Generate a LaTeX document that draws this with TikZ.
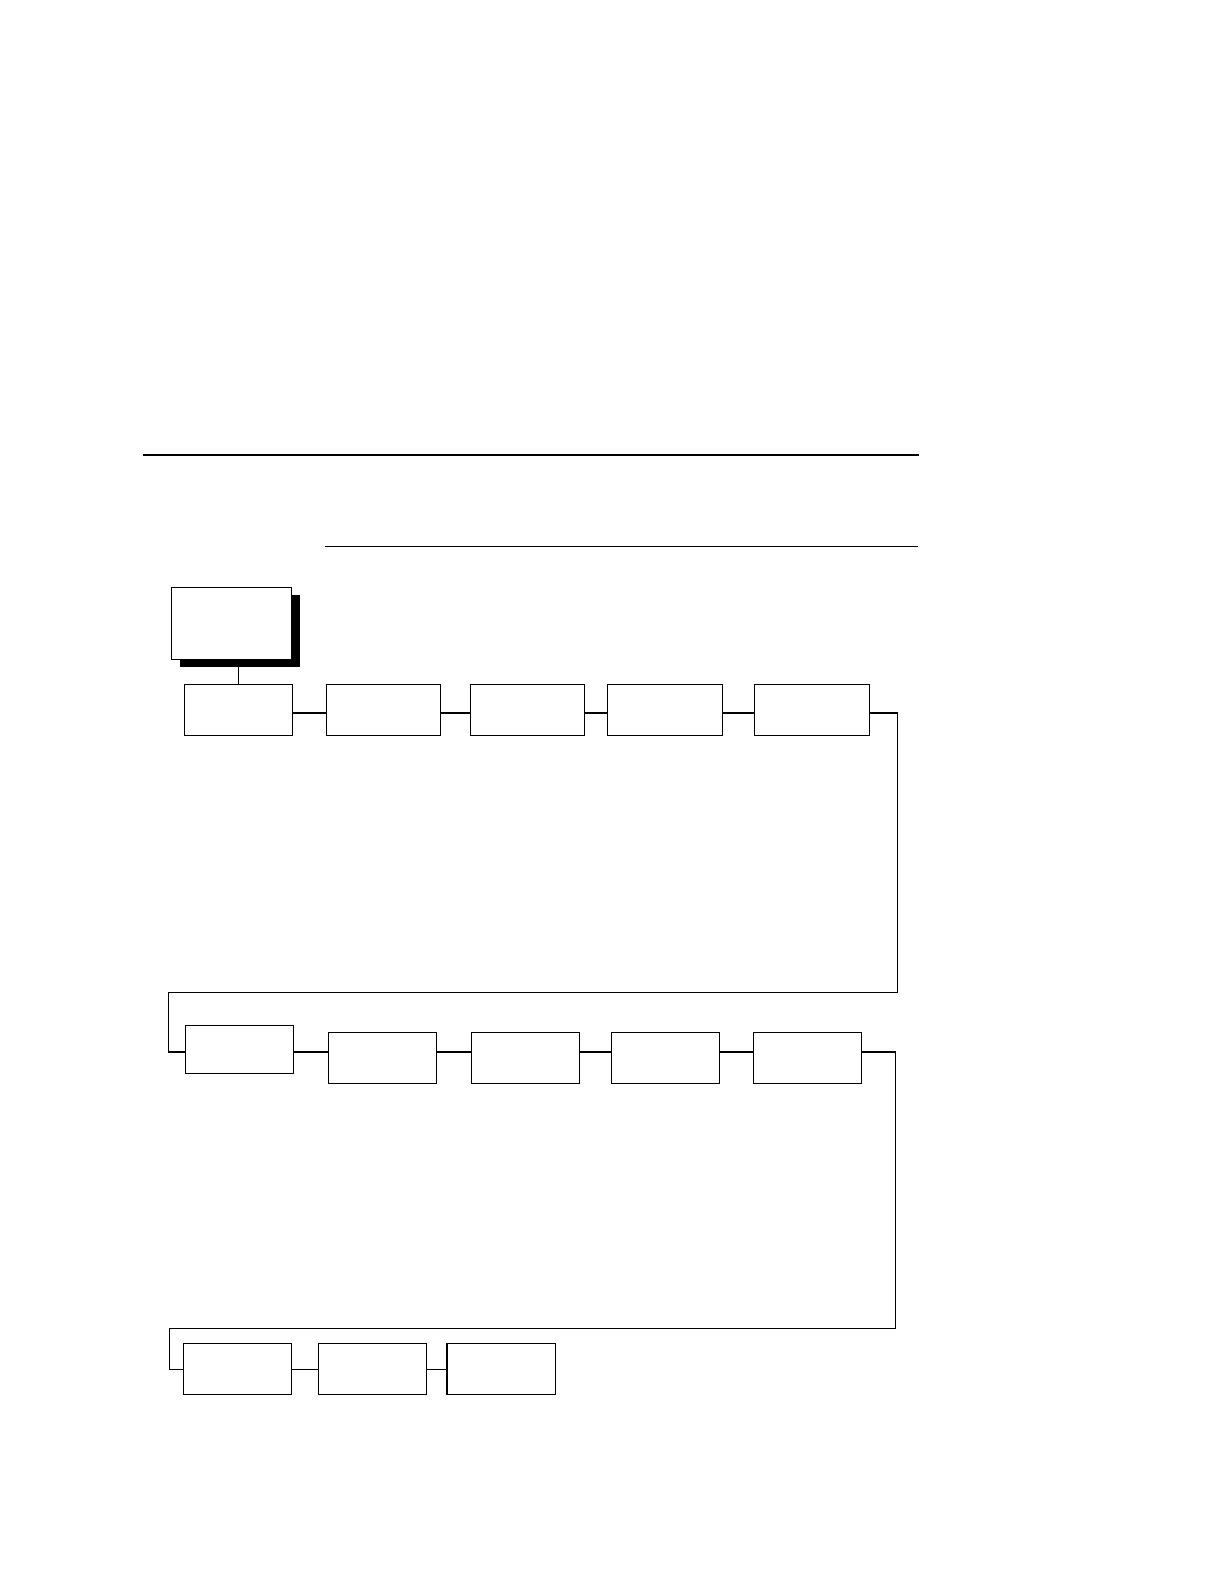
\documentclass[tikz,border=0pt]{standalone}
\usetikzlibrary{positioning,shadows}

\begin{document}
\begin{tikzpicture}
    [x=1pt,y=-1pt,line width=1.2pt,
     box/.style={draw, fill=white, rectangle, inner sep=0pt, minimum height=51pt}]
  \useasboundingbox (0,0) rectangle (1222,1584);

  % header rules
  \draw[line width=2.2pt] (143.3,455.3) -- (918.7,455.3);
  \draw (324.7,546.3) -- (917.7,546.3);

  % main menu box
  \node[box, minimum width=120.4pt, minimum height=72pt,
        drop shadow={shadow xshift=8.7pt, shadow yshift=-8pt, fill=black, opacity=1}]
        (menu) at (231.5,623.3) {};

  % rows of boxes
  \foreach \n/\x/\w in {r1a/238.5/108.4, r1b/383.5/114.4, r1c/527.5/114.4, r1d/665/115.4, r1e/811.8/115}
    \node[box, minimum width=\w pt] (\n) at (\x,709.8) {};
  \node[box, minimum width=108.4pt, minimum height=48pt] (r2a) at (239.5,1049.3) {};
  \foreach \n/\x in {r2b/382.5, r2c/525.3, r2d/665.3, r2e/807.5}
    \node[box, minimum width=108.2pt] (\n) at (\x,1057.8) {};
  \foreach \n/\x in {r3a/237.5, r3b/372.5, r3c/501.2}
    \node[box, minimum width=108.4pt] (\n) at (\x,1368.8) {};

  % connector heights and turns
  \coordinate (c1) at (0,713);
  \coordinate (c2) at (0,1052);
  \coordinate (c3) at (0,1369.3);
  \coordinate (turn1) at (897.3,992.3);
  \coordinate (back1) at (168.7,992.3);
  \coordinate (turn2) at (895.5,1328.3);
  \coordinate (back2) at (169.3,1328.3);

  \draw (r1a.north) -- (r1a.north |- menu.south);
  \foreach \from/\to in {r1a/r1b, r1b/r1c, r1c/r1d, r1d/r1e}
    \draw (\from.east |- c1) -- (\to.west |- c1);
  \foreach \from/\to in {r2a/r2b, r2b/r2c, r2c/r2d, r2d/r2e}
    \draw (\from.east |- c2) -- (\to.west |- c2);
  \foreach \from/\to in {r3a/r3b, r3b/r3c}
    \draw (\from.east |- c3) -- (\to.west |- c3);

  \draw (r1e.east |- c1) -| (turn1) -- (back1) |- (r2a.west |- c2);
  \draw (r2e.east |- c2) -| (turn2) -- (back2) |- (r3a.west |- c3);
\end{tikzpicture}
\end{document}
